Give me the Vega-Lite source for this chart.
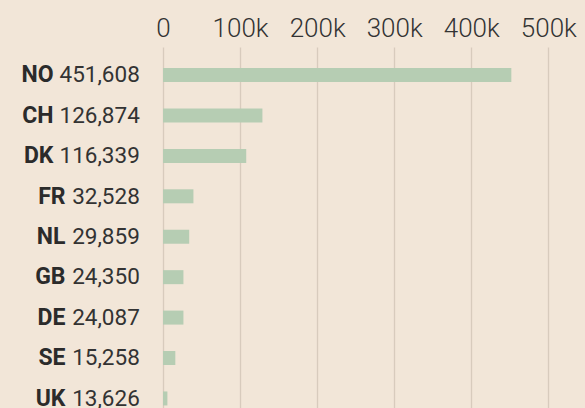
{
  "$schema": "https://vega.github.io/schema/vega-lite/v6.json",
  "width": 422,
  "height": 361,
  "autosize": "none",
  "padding": {"left": 163, "top": 47, "right": 0, "bottom": 0},
  "background": "#f2e6d8",
  "config": {"view": {"stroke": null}, "font": "Roboto"},
  "data": {
    "values": [
      {"label": "NO 451,608", "length": 452000},
      {"label": "CH 126,874", "length": 129000},
      {"label": "DK 116,339", "length": 108000},
      {"label": "FR 32,528", "length": 39500},
      {"label": "NL 29,859", "length": 34000},
      {"label": "GB 24,350", "length": 26500},
      {"label": "DE 24,087", "length": 26500},
      {"label": "SE 15,258", "length": 16000},
      {"label": "UK 13,626", "length": 5700}
    ]
  },
  "layer": [
    {
      "mark": {"type": "bar", "color": "#b6cdb3"},
      "encoding": {
        "x": {
          "field": "length",
          "type": "quantitative",
          "title": null,
          "scale": {"domain": [0, 547600], "nice": false},
          "axis": {
            "orient": "top",
            "values": [0, 100000, 200000, 300000, 400000, 500000],
            "labelExpr": "datum.value == 0 ? '0' : format(datum.value / 1000, 'd') + 'k'",
            "labelFont": "Roboto",
            "labelFontSize": 26,
            "labelFontWeight": 300,
            "labelColor": "#333333",
            "labelPadding": 10.5,
            "labelBaseline": "alphabetic",
            "labelFlush": false,
            "labelOverlap": false,
            "ticks": false,
            "tickSize": 0,
            "domain": false,
            "grid": true,
            "gridColor": "#d8cbbd",
            "gridWidth": 1.3
          }
        },
        "y": {
          "field": "label",
          "type": "nominal",
          "sort": null,
          "title": null,
          "scale": {"paddingInner": 0.6537, "paddingOuter": 0.2914, "align": 0.892},
          "axis": {
            "orient": "left",
            "labelExpr": "split(datum.value, ' ')[1]",
            "labelFont": "Roboto",
            "labelFontSize": 22.5,
            "labelFontWeight": "normal",
            "labelColor": "#333333",
            "labelPadding": 23.7,
            "labelBaseline": "alphabetic",
            "labelOffset": 7.3,
            "labelAlign": "right",
            "ticks": false,
            "tickSize": 0,
            "domain": false,
            "grid": false
          }
        }
      }
    },
    {
      "mark": {"type": "bar", "opacity": 0},
      "encoding": {
        "x": {"field": "length", "type": "quantitative"},
        "y": {
          "field": "label",
          "type": "nominal",
          "sort": null,
          "title": null,
          "axis": {
            "orient": "left",
            "labelExpr": "split(datum.value, ' ')[0]",
            "labelFont": "Roboto",
            "labelFontSize": 23,
            "labelFontWeight": "bold",
            "labelColor": "#2b2b2b",
            "labelPadding": 110,
            "labelBaseline": "alphabetic",
            "labelOffset": 7.3,
            "labelAlign": "right",
            "labelLimit": 300,
            "ticks": false,
            "tickSize": 0,
            "domain": false,
            "grid": false,
            "encoding": {
              "labels": {
                "dx": {
                  "condition": {"test": "length(split(datum.value, ' ')[1]) <= 6", "value": 12},
                  "value": 0
                }
              }
            }
          }
        }
      }
    }
  ],
  "resolve": {"axis": {"y": "independent"}}
}
